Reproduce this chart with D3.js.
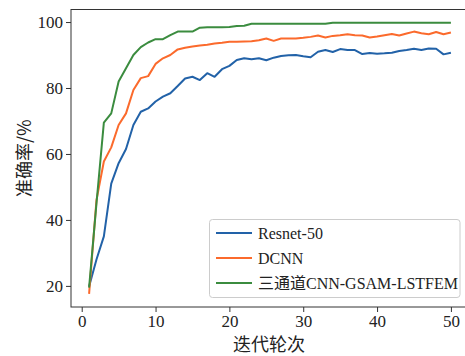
<!DOCTYPE html>
<html><head><meta charset="utf-8">
<script src="https://cdn.jsdelivr.net/npm/d3@7"></script>
<style>body{margin:0;background:#fff;overflow:hidden}svg{display:block}</style>
</head><body>
<script>
const epochs = d3.range(1, 51);
const resnet = [19.8,28,35,51,57.2,61.5,68.8,72.8,73.8,75.9,77.4,78.4,80.6,82.9,83.4,82.4,84.5,83.4,85.7,86.7,88.5,89,88.7,89,88.4,89.2,89.7,89.9,90,89.6,89.3,91,91.5,90.9,91.8,91.5,91.5,90.3,90.6,90.4,90.5,90.7,91.2,91.5,91.9,91.5,92,91.9,90.2,90.7];
const dcnn = [17.6,46,57.7,62,68.8,72.3,79.4,83,83.6,87.3,89,90,91.7,92.2,92.6,92.9,93.1,93.5,93.7,94,94,94.1,94.2,94.5,95,94.3,95,95,95,95.2,95.5,95.9,95.3,95.8,96,96.3,96,95.9,95.3,95.6,96,96.4,95.9,96.5,97.1,96.6,96.3,97,96.3,96.8];
const ours = [19.5,45,69.5,72.3,82,86,90,92.4,93.8,94.8,94.8,96,97.1,97.1,97.1,98.3,98.4,98.4,98.4,98.5,98.8,98.9,99.5,99.5,99.5,99.5,99.5,99.5,99.5,99.5,99.5,99.5,99.5,99.8,99.8,99.8,99.8,99.8,99.8,99.8,99.8,99.8,99.8,99.8,99.8,99.8,99.8,99.8,99.8,99.8];
const seriesNames = ["Resnet-50","DCNN","三通道CNN-GSAM-LSTFEM"];
const colors = ["#2262a8","#fb6a2c","#3b8c3f"];
const xTicks = [0,10,20,30,40,50];
const yTicks = [20,40,60,80,100];
const xLabel = "迭代轮次", yLabel = "准确率/%";

const W = 465, H = 356;
const m = {left:71, top:9.5, right:469, bottom:307};
const svg = d3.select("body").append("svg").attr("width", W).attr("height", H);
const x = d3.scaleLinear().domain([-1.45, 52.45]).range([m.left, m.right]);
const y = d3.scaleLinear().domain([13.6, 103.8]).range([m.bottom, m.top]);
const font = "'Liberation Serif','Times New Roman',serif";

// frame
svg.append("rect").attr("x", m.left).attr("y", m.top).attr("width", m.right - m.left).attr("height", m.bottom - m.top)
  .attr("fill", "none").attr("stroke", "#333").attr("stroke-width", 1);

const xa = svg.append("g").attr("transform", `translate(0,${m.bottom})`)
  .call(d3.axisBottom(x).tickValues(xTicks).tickSize(5).tickPadding(3));
const ya = svg.append("g").attr("transform", `translate(${m.left},0)`)
  .call(d3.axisLeft(y).tickValues(yTicks).tickSize(5).tickPadding(3));
[xa, ya].forEach(a => {
  a.select(".domain").remove();
  a.selectAll("line").attr("stroke", "#333");
  a.selectAll("text").attr("fill", "#222").style("font-family", font).style("font-size", "17px");
});

const line = d3.line().x((d, i) => x(epochs[i])).y(d => y(d));
[resnet, dcnn, ours].forEach((s, k) => {
  svg.append("path").datum(s).attr("d", line).attr("fill", "none")
    .attr("stroke", colors[k]).attr("stroke-width", 2).attr("stroke-linejoin", "round");
});

svg.append("text").attr("x", (m.left + m.right) / 2 - 1).attr("y", 351).attr("text-anchor", "middle")
  .style("font-family", "'Noto Sans CJK SC',serif").style("font-size", "18px").attr("fill", "#222").text(xLabel);
svg.append("text").attr("transform", `translate(31,${(m.top + m.bottom) / 2}) rotate(-90)`).attr("text-anchor", "middle")
  .style("font-family", "'Noto Sans CJK SC',serif").style("font-size", "18px").attr("fill", "#222").text(yLabel);

// legend
const lg = svg.append("g");
lg.append("rect").attr("x", 209.5).attr("y", 219.5).attr("width", 250.5).attr("height", 78).attr("rx", 3)
  .attr("fill", "#fff").attr("fill-opacity", 0.8).attr("stroke", "#ccc").attr("stroke-width", 1);
seriesNames.forEach((n, k) => {
  const yy = 233 + k * 25;
  lg.append("line").attr("x1", 216).attr("x2", 252).attr("y1", yy).attr("y2", yy)
    .attr("stroke", colors[k]).attr("stroke-width", 2);
  lg.append("text").attr("x", 258).attr("y", yy + 5.5)
    .style("font-family", font + ",'Noto Sans CJK SC'").style("font-size", "16px").attr("fill", "#222").text(n);
});
</script>
</body></html>
